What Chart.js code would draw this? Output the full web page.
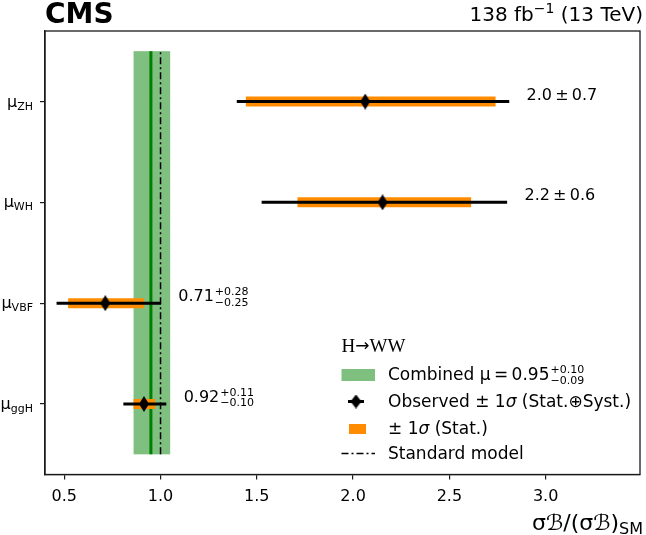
<!DOCTYPE html>
<html>
<head>
<meta charset="utf-8">
<script src="https://cdn.jsdelivr.net/npm/chart.js@4.4.1/dist/chart.umd.min.js"></script>
<style>
  html, body { margin: 0; padding: 0; background: #fff; }
  #wrap { width: 646px; height: 535px; }
</style>
</head>
<body>
<div id="wrap"><canvas id="muChart" width="646" height="535"></canvas></div>
<script>
// categories from bottom to top
const categories = ['ggH', 'VBF', 'WH', 'ZH'];
const muCentral = [0.914, 0.713, 2.153, 2.063];
const totalLow = [0.807, 0.460, 1.525, 1.396];
const totalHigh = [1.030, 1.002, 2.800, 2.811];
const statLow = [0.860, 0.520, 1.711, 1.443];
const statHigh = [0.972, 0.915, 2.613, 2.740];
const valueText = ['0.92', '0.71', '2.2\u2009±\u20090.6', '2.0\u2009±\u20090.7'];
const valueUp = ['+0.11', '+0.28', '', ''];
const valueDown = ['\u22120.10', '\u22120.25', '', ''];
const combinedMu = 0.95;
const combinedUp = 0.10;
const combinedDown = 0.09;
const smValue = 1.0;
const xTicks = [0.5, 1.0, 1.5, 2.0, 2.5, 3.0];

const FONT = "'DejaVu Sans', 'Noto Sans', sans-serif";
const SERIF = "'Liberation Serif', 'DejaVu Serif', serif";
const bandBottom = -0.5;
const bandTop = categories.length - 0.5;

// thin diamond marker (like matplotlib 'd')
function thinDiamond(w, h) {
    const c = document.createElement('canvas');
    c.width = w;
    c.height = h;
    const g = c.getContext('2d');
    g.beginPath();
    g.moveTo(w / 2, 0);
    g.lineTo(w, h / 2);
    g.lineTo(w / 2, h);
    g.lineTo(0, h / 2);
    g.closePath();
    g.fillStyle = '#000';
    g.fill();
    return c;
}

// horizontal segments, separated by gaps
function segments(lo, hi) {
    const pts = [];
    categories.forEach((c, i) => {
        pts.push({x: lo[i], y: i}, {x: hi[i], y: i}, {x: null, y: null});
    });
    return pts;
}

// draws pieces of text one after the other, returns end x
function textRun(ctx, parts, x, y) {
    parts.forEach(([str, font, dy]) => {
        ctx.font = font;
        ctx.fillText(str, x, y + (dy || 0));
        x += ctx.measureText(str).width;
    });
    return x;
}

const diamond = thinDiamond(10, 16);

const decorPlugin = {
    id: 'decor',
    beforeDatasetsDraw(chart) {
        const {ctx, scales: {x, y}} = chart;
        // combined band
        const x0 = x.getPixelForValue(combinedMu - combinedDown);
        const x1 = x.getPixelForValue(combinedMu + combinedUp);
        const y0 = y.getPixelForValue(bandTop);
        const y1 = y.getPixelForValue(bandBottom);
        ctx.save();
        ctx.fillStyle = 'rgb(127, 191, 127)';
        ctx.fillRect(x0, y0, x1 - x0, y1 - y0);
        ctx.restore();
    },
    afterDatasetsDraw(chart) {
        const {ctx, chartArea: a, scales: {x, y}} = chart;
        ctx.save();
        // frame
        ctx.strokeStyle = '#1a1a1a';
        ctx.lineWidth = 1.3;
        ctx.strokeRect(a.left, a.top, a.right - a.left, a.bottom - a.top);

        ctx.fillStyle = '#000';
        ctx.textBaseline = 'alphabetic';

        // y labels with subscripts
        categories.forEach((c, i) => {
            const py = y.getPixelForValue(i);
            ctx.font = '11px ' + FONT;
            const subW = ctx.measureText(c).width;
            ctx.textAlign = 'right';
            ctx.fillText(c, 33, py + 8);
            ctx.font = '16px ' + FONT;
            ctx.fillText('μ', 33 - subW, py + 5);
        });

        // value labels
        ctx.textAlign = 'left';
        categories.forEach((c, i) => {
            const py = y.getPixelForValue(i);
            const px = x.getPixelForValue(totalHigh[i] + 0.09);
            ctx.font = '16px ' + FONT;
            ctx.fillText(valueText[i], px, py - 2);
            const w = ctx.measureText(valueText[i]).width;
            if (valueUp[i]) {
                ctx.font = '11px ' + FONT;
                ctx.fillText(valueUp[i], px + w + 1, py - 8);
                ctx.fillText(valueDown[i], px + w + 1, py + 2.5);
            }
        });

        // legend
        const lx = 341.5, tx = 388;
        const f17 = '17px ' + FONT, i17 = 'italic 17px ' + FONT;
        textRun(ctx, [['H', '19px ' + SERIF], ['\u2192', '17px ' + FONT, -1], ['WW', '19px ' + SERIF]], lx, 352);

        ctx.fillStyle = 'rgb(127, 191, 127)';
        ctx.fillRect(lx, 369, 33.5, 12);
        ctx.fillStyle = '#000';
        const cEnd = textRun(ctx, [['Combined μ\u2009=\u2009' + combinedMu.toFixed(2), f17]], tx, 380);
        ctx.font = '11px ' + FONT;
        ctx.fillText('+' + combinedUp.toFixed(2), cEnd + 1, 373);
        ctx.fillText('\u2212' + combinedDown.toFixed(2), cEnd + 1, 383.5);

        ctx.lineWidth = 3;
        ctx.strokeStyle = '#000';
        ctx.beginPath();
        ctx.moveTo(348, 401.5);
        ctx.lineTo(364, 401.5);
        ctx.stroke();
        ctx.drawImage(thinDiamond(11, 14), 356 - 5.5, 401.5 - 7);
        textRun(ctx, [['Observed ± 1', f17], ['σ', i17], [' (Stat.⊕Syst.)', f17]], tx, 407);

        ctx.fillStyle = '#ff8c00';
        ctx.fillRect(349, 424, 17, 10);
        ctx.fillStyle = '#000';
        textRun(ctx, [['± 1', f17], ['σ', i17], [' (Stat.)', f17]], tx, 433.5);

        ctx.lineWidth = 1.5;
        ctx.setLineDash([7, 3, 2, 3]);
        ctx.beginPath();
        ctx.moveTo(lx, 453.5);
        ctx.lineTo(lx + 33.5, 453.5);
        ctx.stroke();
        ctx.setLineDash([]);
        textRun(ctx, [['Standard model', f17]], tx, 459);

        // header texts
        ctx.font = 'bold 28px ' + FONT;
        ctx.fillText('CMS', 45, 23);
        ctx.textAlign = 'right';
        ctx.font = '20px ' + FONT;
        const tail = ' (13 TeV)';
        ctx.fillText(tail, 643, 21);
        let rx = 643 - ctx.measureText(tail).width;
        ctx.font = '14px ' + FONT;
        ctx.fillText('\u22121', rx, 13);
        rx -= ctx.measureText('\u22121').width;
        ctx.font = '20px ' + FONT;
        ctx.fillText('138 fb', rx, 21);

        // x axis title
        ctx.font = '16px ' + FONT;
        ctx.fillText('SM', 643, 534);
        const smW = ctx.measureText('SM').width;
        ctx.font = '22px ' + FONT;
        ctx.fillText('σℬ/(σℬ)', 643 - smW, 530);
        ctx.restore();
    }
};

const ctx = document.getElementById('muChart').getContext('2d');
const chart = new Chart(ctx, {
    type: 'scatter',
    data: {
        datasets: [
            {
                label: 'Observed',
                data: categories.map((c, i) => ({x: muCentral[i], y: i})),
                pointStyle: diamond,
                pointRadius: 5,
                showLine: false
            },
            {
                label: 'Total',
                data: segments(totalLow, totalHigh),
                showLine: true,
                borderColor: '#000',
                borderWidth: 3,
                pointRadius: 0,
                spanGaps: false
            },
            {
                label: 'Stat',
                data: segments(statLow, statHigh),
                showLine: true,
                borderColor: '#ff8c00',
                borderWidth: 10,
                pointRadius: 0,
                spanGaps: false
            },
            {
                label: 'SM',
                data: [{x: smValue, y: bandBottom}, {x: smValue, y: bandTop}],
                showLine: true,
                borderColor: '#000',
                borderWidth: 1.5,
                borderDash: [7, 3, 2, 3],
                pointRadius: 0
            },
            {
                label: 'Combined',
                data: [{x: combinedMu, y: bandBottom}, {x: combinedMu, y: bandTop}],
                showLine: true,
                borderColor: '#008000',
                borderWidth: 3,
                pointRadius: 0
            }
        ]
    },
    options: {
        responsive: false,
        animation: false,
        events: [],
        layout: {
            padding: {top: 31, left: 40, right: 2, bottom: 21.3}
        },
        plugins: {
            legend: {display: false},
            tooltip: {enabled: false}
        },
        scales: {
            x: {
                type: 'linear',
                min: 0.4,
                max: 3.49,
                afterBuildTicks: (scale) => {
                    scale.ticks = xTicks.map(v => ({value: v}));
                },
                ticks: {
                    color: '#000',
                    font: {family: FONT, size: 16},
                    padding: 7.5,
                    maxRotation: 0,
                    callback: (v) => Number(v).toFixed(1)
                },
                grid: {
                    drawOnChartArea: false,
                    tickLength: 5,
                    color: '#1a1a1a',
                    lineWidth: 1.2
                },
                border: {color: '#1a1a1a', width: 1.3}
            },
            y: {
                type: 'linear',
                min: -0.7,
                max: 3.7,
                afterBuildTicks: (scale) => {
                    scale.ticks = categories.map((c, i) => ({value: i}));
                },
                ticks: {display: false},
                grid: {
                    drawOnChartArea: false,
                    tickLength: 5,
                    color: '#1a1a1a',
                    lineWidth: 1.2
                },
                border: {color: '#1a1a1a', width: 1.3}
            }
        }
    },
    plugins: [decorPlugin]
});
</script>
</body>
</html>
